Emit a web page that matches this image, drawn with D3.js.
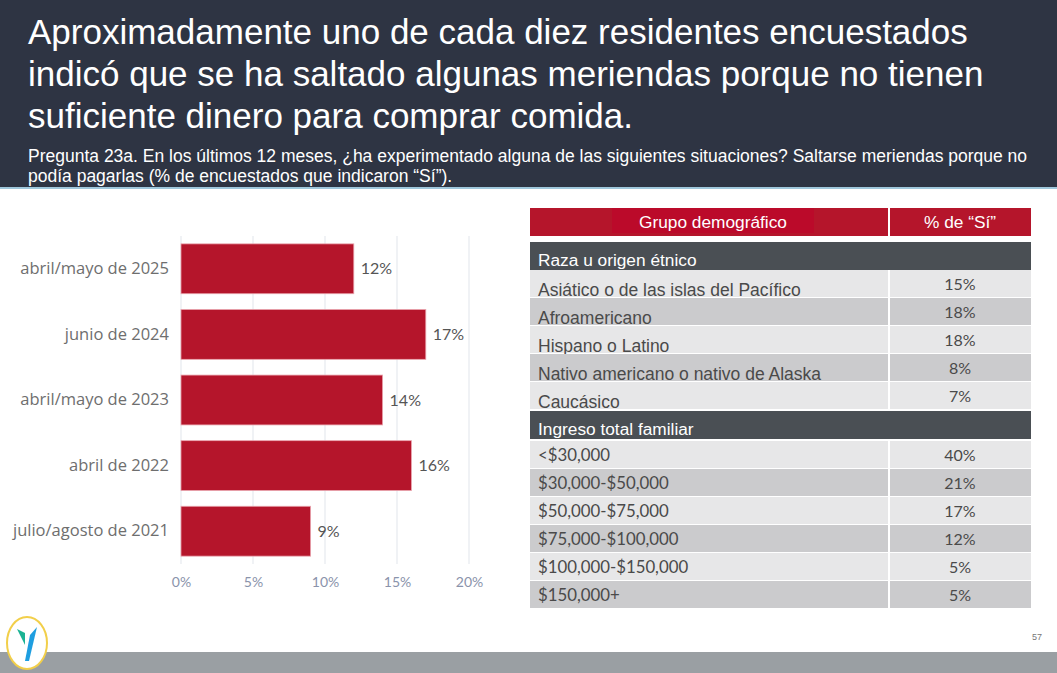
<!DOCTYPE html>
<html>
<head>
<meta charset="utf-8">
<title>Saltarse meriendas</title>
<script src="https://d3js.org/d3.v7.min.js"></script>
<style>
  body { margin: 0; background: #fff; }
  svg { display: block; }
</style>
</head>
<body>
<script>

// bar chart data
var periods = ["abril/mayo de 2025", "junio de 2024", "abril/mayo de 2023", "abril de 2022", "julio/agosto de 2021"];
var periodValues = [12, 17, 14, 16, 9];
var xTicks = [0, 5, 10, 15, 20];

// table data
var raceGroups = ["Asiático o de las islas del Pacífico", "Afroamericano", "Hispano o Latino", "Nativo americano o nativo de Alaska", "Caucásico"];
var raceValues = [15, 18, 18, 8, 7];
var incomeGroups = ["<$30,000", "$30,000-$50,000", "$50,000-$75,000", "$75,000-$100,000", "$100,000-$150,000", "$150,000+"];
var incomeValues = [40, 21, 17, 12, 5, 5];

var W = 1057, H = 673;
var svg = d3.select("body").append("svg")
    .attr("width", W)
    .attr("height", H);

// header
svg.append("rect").attr("x", 0).attr("y", 0).attr("width", W).attr("height", 188).attr("fill", "#2e3443");
svg.append("rect").attr("x", 0).attr("y", 187).attr("width", W).attr("height", 2).attr("fill", "#9fc7dc");

var title = ["Aproximadamente uno de cada diez residentes encuestados",
             "indicó que se ha saltado algunas meriendas porque no tienen",
             "suficiente dinero para comprar comida."];
svg.selectAll(".title").data(title).enter().append("text")
    .attr("class", "title")
    .attr("x", 28)
    .attr("y", (d, i) => 44 + i * 42)
    .attr("fill", "#fff")
    .style("font-family", "Liberation Sans, Arial, sans-serif")
    .style("font-size", "35px")
    .text(d => d);

var sub = ["Pregunta 23a. En los últimos 12 meses, ¿ha experimentado alguna de las siguientes situaciones? Saltarse meriendas porque no",
           "podía pagarlas (% de encuestados que indicaron “Sí”)."];
svg.selectAll(".sub").data(sub).enter().append("text")
    .attr("class", "sub")
    .attr("x", 28)
    .attr("y", (d, i) => 162 + i * 20)
    .attr("fill", "#fff")
    .style("font-family", "Liberation Sans, Arial, sans-serif")
    .style("font-size", "17.5px")
    .text(d => d);

// bar chart
var x = d3.scaleLinear().domain([0, 20]).range([181, 469]);
var y = d3.scaleBand().domain(periods).range([236, 564]).paddingInner(0.24).paddingOuter(0.12);

var chart = svg.append("g");

chart.selectAll(".grid").data(xTicks).enter().append("line")
    .attr("class", "grid")
    .attr("x1", d => x(d)).attr("x2", d => x(d))
    .attr("y1", 236).attr("y2", 564)
    .attr("stroke", "#e6e9ef")
    .attr("stroke-width", 1.2);

var xAxis = d3.axisBottom(x).tickValues(xTicks).tickSize(0).tickFormat(d => d + "%");
chart.append("g")
    .attr("transform", "translate(0,574)")
    .call(xAxis)
    .call(g => g.select(".domain").remove())
    .selectAll("text")
    .attr("fill", "#8a93ab")
    .style("font-family", "Lato, sans-serif")
    .style("font-size", "14px");

var yAxis = d3.axisLeft(y).tickSize(0).tickPadding(12);
chart.append("g")
    .attr("transform", "translate(181,0)")
    .call(yAxis)
    .call(g => g.select(".domain").remove())
    .selectAll("text")
    .attr("fill", "#6e6e6e")
    .style("font-family", "Open Sans, sans-serif")
    .style("font-size", "16.5px");

chart.selectAll(".bar").data(periods).enter().append("rect")
    .attr("class", "bar")
    .attr("x", x(0))
    .attr("y", d => y(d))
    .attr("width", (d, i) => x(periodValues[i]) - x(0))
    .attr("height", y.bandwidth())
    .attr("fill", "#b5152b")
    .attr("stroke", "#e9a3ad")
    .attr("stroke-width", 0.8);

chart.selectAll(".val").data(periods).enter().append("text")
    .attr("class", "val")
    .attr("x", (d, i) => x(periodValues[i]) + 7)
    .attr("y", d => y(d) + y.bandwidth() / 2)
    .attr("dy", "0.35em")
    .attr("fill", "#555")
    .style("font-family", "Lato, sans-serif")
    .style("font-size", "16px")
    .text((d, i) => periodValues[i] + "%");

// table
var tx0 = 530, tx1 = 889, tx2 = 1031;
var table = svg.append("g");

table.append("rect").attr("x", tx0).attr("y", 208).attr("width", tx1 - tx0 - 1).attr("height", 28).attr("fill", "#b5152b");
table.append("rect").attr("x", tx1 + 1).attr("y", 208).attr("width", tx2 - tx1 - 1).attr("height", 28).attr("fill", "#b5152b");
table.append("rect").attr("x", 612).attr("y", 208).attr("width", 202).attr("height", 25).attr("fill", "#bb0a2a");
table.append("text").attr("x", 713).attr("y", 228).attr("text-anchor", "middle")
    .attr("fill", "#fff").style("font-family", "Liberation Sans, Arial, sans-serif").style("font-size", "17.3px")
    .text("Grupo demográfico");
table.append("text").attr("x", 960).attr("y", 228).attr("text-anchor", "middle")
    .attr("fill", "#fff").style("font-family", "Liberation Sans, Arial, sans-serif").style("font-size", "17.3px")
    .text("% de “Sí”");

function section(label, top) {
    table.append("rect").attr("x", tx0).attr("y", top).attr("width", tx2 - tx0).attr("height", 28).attr("fill", "#4a4f54");
    table.append("text").attr("x", 538).attr("y", top + 24)
        .attr("fill", "#fff").style("font-family", "Liberation Sans, Arial, sans-serif").style("font-size", "17.3px")
        .text(label);
}

function rows(groups, values, top, font, size, dyText) {
    var ry = d3.scaleBand().domain(groups).range([top, top + groups.length * 28]);
    var g = table.selectAll(null).data(groups).enter().append("g");
    g.append("rect")
        .attr("x", tx0).attr("y", d => ry(d))
        .attr("width", tx1 - tx0 - 1).attr("height", ry.bandwidth() - 1)
        .attr("fill", (d, i) => i % 2 ? "#cbcbcd" : "#e7e7e8");
    g.append("rect")
        .attr("x", tx1 + 1).attr("y", d => ry(d))
        .attr("width", tx2 - tx1 - 1).attr("height", ry.bandwidth() - 1)
        .attr("fill", (d, i) => i % 2 ? "#cbcbcd" : "#e7e7e8");
    g.append("text")
        .attr("x", 538).attr("y", d => ry(d) + dyText)
        .attr("fill", "#4a4a4a").style("font-family", font).style("font-size", size)
        .text(d => d);
    g.append("text")
        .attr("x", 960).attr("y", d => ry(d) + 20)
        .attr("text-anchor", "middle")
        .attr("fill", "#4a4a4a").style("font-family", "Lato, sans-serif").style("font-size", "16px")
        .text((d, i) => values[i] + "%");
}

section("Raza u origen étnico", 242);
rows(raceGroups, raceValues, 270, "Liberation Sans, Arial, sans-serif", "17.5px", 26);
section("Ingreso total familiar", 411);
rows(incomeGroups, incomeValues, 441, "Lato, sans-serif", "16.8px", 20);

// footer
svg.append("rect").attr("x", 0).attr("y", 652).attr("width", W).attr("height", 21).attr("fill", "#9a9fa3");
var logo = svg.append("g").attr("transform", "translate(27,643)");
logo.append("ellipse").attr("rx", 20).attr("ry", 26).attr("fill", "#fff").attr("stroke", "#f2cf4a").attr("stroke-width", 2);
logo.append("path").attr("d", "M-10,-14 L-2,-10 L-2,2 Z").attr("fill", "#1bb394");
logo.append("path").attr("d", "M10,-16 L3,-8 L-2,18 L2,18 Z").attr("fill", "#1e9ee0");
svg.append("text").attr("x", 1042).attr("y", 640).attr("text-anchor", "end")
    .attr("fill", "#777").style("font-family", "Liberation Sans, Arial, sans-serif").style("font-size", "9px")
    .text("57");

</script>
</body>
</html>
